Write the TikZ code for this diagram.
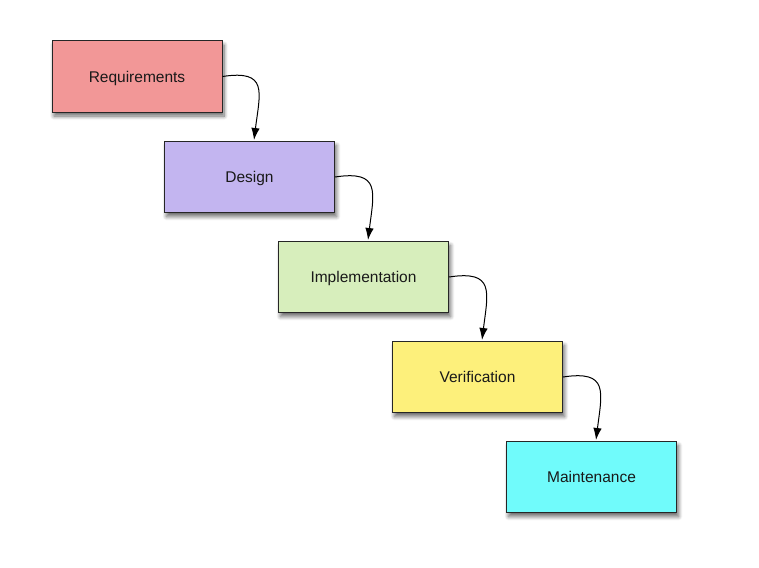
\documentclass[tikz,border=0pt]{standalone}
\usepackage{fontspec}
\setmainfont{Liberation Sans}
\usetikzlibrary{arrows.meta,shadows.blur}
\definecolor{creq}{HTML}{F29797}
\definecolor{cdes}{HTML}{C3B5F0}
\definecolor{cimp}{HTML}{D7EEBC}
\definecolor{cver}{HTML}{FDF07B}
\definecolor{cmai}{HTML}{70FBFB}
\tikzset{
  phase/.style={draw=black!85, line width=1pt, minimum width=170pt, minimum height=71pt,
    inner sep=0pt, font=\fontsize{15.5}{18}\selectfont, text=black!90, text depth=0pt,
    blur shadow={shadow xshift=2pt, shadow yshift=-4pt, shadow blur radius=4pt, shadow blur steps=8, shadow opacity=60}},
  flow/.style={line width=1pt, -{Latex[length=12pt,width=8.5pt]}}
}
\begin{document}
\begin{tikzpicture}[x=1pt,y=-1pt]
\useasboundingbox (0,0) rectangle (759,567);
\node[phase, fill=creq] (req) at (137,76.5) {Requirements};
\node[phase, fill=cdes] (des) at (249.5,177) {Design};
\node[phase, fill=cimp] (imp) at (363.5,277) {Implementation};
\node[phase, fill=cver] (ver) at (477.5,377) {Verification};
\node[phase, fill=cmai] (mai) at (591.5,477) {Maintenance};
\coordinate (tdes) at ($(des.north)+(4.5,-1)$);
\coordinate (timp) at ($(imp.north)+(4.5,-1)$);
\coordinate (tver) at ($(ver.north)+(4.5,-1)$);
\coordinate (tmai) at ($(mai.north)+(4.5,-1)$);
\draw[flow] (req.east) .. controls +(46,-7) and +(6,-48) .. (tdes);
\draw[flow] (des.east) .. controls +(46,-7) and +(6,-48) .. (timp);
\draw[flow] (imp.east) .. controls +(46,-7) and +(6,-48) .. (tver);
\draw[flow] (ver.east) .. controls +(46,-7) and +(6,-48) .. (tmai);
\end{tikzpicture}
\end{document}
